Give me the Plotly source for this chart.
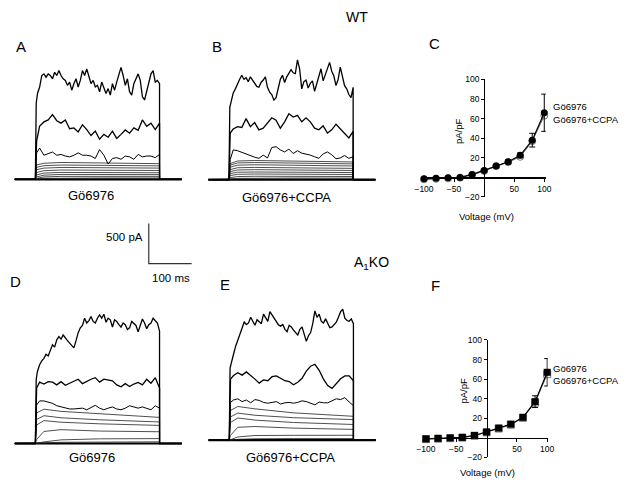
import plotly.graph_objects as go

W, H = 629, 486

# ---------------- DATA ----------------
# time grids (ms) of the sampled current traces
T_TOP = [2] + list(range(5, 295, 5))
T_MID = [3] + list(range(10, 300, 10))
T_LOW = [3, 20, 60, 150, 290]
PULSE_END = 290
BASE_T = [-48, 342]

# Panel A (WT, Go6976) currents, pA
A_top = [947, 1069, 1150, 1293, 1313, 1272, 1313, 1293, 1252, 1333, 1293, 1354, 1293, 1252, 1232,
         1171, 1211, 1110, 1191, 1252, 1150, 1232, 1354, 1293, 1374, 1293, 1191, 1232, 1150, 1171,
         1089, 1211, 1150, 1069, 1130, 1049, 1191, 1110, 1211, 1293, 1394, 1293, 1171, 1252, 1089,
         1049, 1191, 1252, 1313, 1232, 1028, 988, 1089, 1211, 1313, 1354, 1211, 1232, 1191]
A_mid = [480, 663, 715, 740, 805, 730, 700, 740, 630, 640, 590, 680, 620, 545, 600,
         500, 560, 525, 600, 510, 560, 615, 575, 640, 610, 740, 660, 700, 620, 700]
A_3rd = [330, 390, 300, 320, 340, 300, 310, 290, 280, 300, 330, 300, 300, 290, 260,
         370, 300, 190, 260, 270, 250, 290, 280, 250, 310, 280, 290, 290, 270, 310]
A_low = [[180, 200, 210, 205, 195], [150, 170, 178, 175, 168], [120, 140, 148, 146, 140],
         [85, 108, 116, 114, 110], [55, 78, 86, 85, 82], [30, 52, 61, 61, 59],
         [12, 30, 37, 38, 37], [3, 12, 16, 17, 17]]

# Panel B (WT, Go6976+CCPA)
B_top = [900, 980, 1080, 1130, 1200, 1250, 1300, 1250, 1270, 1220, 1280, 1240, 1200, 1160, 1150,
         1210, 1240, 1280, 1150, 1090, 1060, 990, 1020, 1120, 1250, 1300, 1210, 1280, 1330, 1370,
         1330, 1320, 1490, 1380, 1130, 1220, 1240, 1140, 1200, 1230, 1100, 1200, 1310, 1380, 1230,
         1300, 1390, 1460, 1350, 1290, 1170, 1250, 1400, 1260, 1170, 1130, 1060, 1020, 1150]
B_mid = [580, 630, 660, 650, 760, 660, 710, 620, 640, 700, 770, 740, 640, 720, 820,
         780, 800, 720, 770, 720, 640, 620, 670, 580, 620, 690, 630, 580, 520, 600]
B_3rd = [250, 370, 360, 340, 320, 290, 280, 265, 305, 270, 400, 410, 370, 345, 380,
         325, 360, 330, 320, 305, 285, 265, 320, 345, 310, 260, 270, 300, 265, 285]
B_low = [[200, 232, 238, 230, 220], [180, 208, 213, 205, 196], [155, 180, 185, 180, 170],
         [125, 148, 152, 148, 140], [100, 120, 124, 120, 114], [75, 92, 95, 92, 88],
         [50, 66, 70, 68, 64], [25, 38, 42, 41, 39], [8, 16, 20, 20, 19]]

# Panel D (A1KO, Go6976)
D_top = [800, 900, 980, 1030, 1060, 1110, 1090, 1160, 1230, 1200, 1290, 1330, 1300, 1350, 1310,
         1280, 1250, 1220, 1190, 1280, 1380, 1440, 1470, 1560, 1500, 1530, 1580, 1520, 1500, 1560,
         1600, 1560, 1610, 1510, 1560, 1540, 1450, 1540, 1520, 1480, 1450, 1500, 1480, 1420, 1440,
         1520, 1490, 1470, 1390, 1460, 1550, 1500, 1430, 1480, 1500, 1560, 1530, 1500, 1400]
D_mid = [690, 764, 740, 770, 764, 730, 770, 724, 750, 780, 800, 745, 775, 800, 820,
         764, 800, 790, 780, 730, 705, 745, 710, 740, 760, 730, 800, 750, 820, 690]
D_3rd = [480, 530, 530, 515, 500, 470, 455, 440, 430, 430, 435, 440, 420, 450, 475,
         440, 420, 440, 455, 430, 420, 440, 470, 455, 440, 455, 435, 420, 470, 440]
D_low = [[380, 427, 400, 370, 325], [300, 346, 320, 295, 268], [230, 285, 265, 245, 225],
         [50, 150, 172, 155, 146], [3, 20, 45, 58, 61], [1, 8, 15, 19, 21]]

# Panel E (A1KO, Go6976+CCPA)
E_top = [900, 980, 1070, 1170, 1240, 1320, 1400, 1470, 1440, 1460, 1530, 1480, 1430, 1500, 1470,
         1450, 1570, 1520, 1480, 1600, 1560, 1510, 1470, 1435, 1420, 1440, 1380, 1350, 1430, 1410,
         1370, 1340, 1310, 1380, 1410, 1320, 1230, 1300, 1340, 1450, 1610, 1530, 1570, 1480, 1460,
         1510, 1460, 1400, 1410, 1440, 1470, 1530, 1600, 1630, 1520, 1490, 1480, 1510, 1450]
E_mid = [760, 805, 840, 810, 850, 810, 760, 710, 750, 740, 790, 800, 770, 740, 730,
         690, 720, 770, 860, 920, 945, 870, 760, 680, 645, 700, 764, 800, 800, 740]
E_3rd = [470, 500, 515, 480, 500, 465, 505, 495, 470, 460, 470, 480, 450, 465, 470,
         460, 470, 490, 480, 455, 440, 475, 465, 465, 490, 515, 505, 530, 475, 430]
E_low = [[370, 419, 390, 340, 297], [290, 337, 310, 280, 256], [220, 276, 250, 220, 195],
         [60, 160, 170, 150, 134], [5, 40, 58, 60, 61], [1, 10, 17, 20, 20]]

# Scale bar
SCALE_MS = 100
SCALE_PA = 500

# I-V data (pA/pF)
V = [-100, -80, -60, -40, -20, 0, 20, 40, 60, 80, 100]
C_go = [-1.5, -1, -0.5, 0, 3, 7, 11.5, 16, 22.5, 38, 66]
C_go_err = [0.5, 0.5, 0.5, 0.5, 1, 1.5, 1.5, 2, 2.5, 7, 19]
C_ccpa = [-2, -1.5, -1, -0.3, 2.5, 6.5, 11.5, 15.5, 21, 37, 63]
F_go = [-1, -0.5, 0, 0.5, 2.5, 6, 10, 14, 21, 37, 67]
F_go_err = [0.5, 0.5, 0.5, 0.5, 1, 1.5, 1.5, 2, 2.5, 6, 14]
F_ccpa = [-1.2, -0.8, -0.3, 0.3, 2.2, 5.7, 9.6, 13.5, 20.5, 36, 65]

# ---------------- LAYOUT HELPERS ----------------
SX = 0.438          # px per ms
SY = 41 / 500       # px per pA
FONT = "Liberation Sans, Arial, sans-serif"

fig = go.Figure()
layout = dict(width=W, height=H, margin=dict(l=0, r=0, t=0, b=0, pad=0), autosize=False,
              paper_bgcolor="white", plot_bgcolor="rgba(0,0,0,0)", showlegend=False,
              hovermode=False,
              font=dict(family=FONT, color="black"))


def hidden_axes(n, ox, oy, bx0, bx1, by0, by1):
    layout[f"xaxis{n}"] = dict(domain=[bx0 / W, bx1 / W],
                               range=[(bx0 - ox) / SX, (bx1 - ox) / SX],
                               visible=False, anchor=f"y{n}")
    layout[f"yaxis{n}"] = dict(domain=[1 - by1 / H, 1 - by0 / H],
                               range=[(oy - by1) / SY, (oy - by0) / SY],
                               visible=False, anchor=f"x{n}")


def add_panel(n, ox, oy, top, mid, third, lows):
    hidden_axes(n, ox, oy, ox - 24, ox + 156, oy - 150, oy + 8)
    xa, ya = f"x{n}", f"y{n}"
    fig.add_trace(go.Scatter(x=BASE_T, y=[0, 0], mode="lines", xaxis=xa, yaxis=ya,
                             line=dict(color="black", width=2.2), hoverinfo="skip"))
    for vals in lows:
        fig.add_trace(go.Scatter(x=[BASE_T[0], 0] + T_LOW + [PULSE_END, BASE_T[1]],
                                 y=[0, 0] + vals + [0, 0], mode="lines", xaxis=xa, yaxis=ya,
                                 line=dict(color="#222", width=0.8), hoverinfo="skip"))
    for vals, tt, w in [(third, T_MID, 1.0), (mid, T_MID, 1.3), (top, T_TOP, 1.3)]:
        fig.add_trace(go.Scatter(x=[BASE_T[0], 0] + tt + [PULSE_END, BASE_T[1]],
                                 y=[0, 0] + vals + [0, 0], mode="lines", xaxis=xa, yaxis=ya,
                                 line=dict(color="black", width=w), hoverinfo="skip"))


add_panel(1, 29, 178, A_top, A_mid, A_3rd, A_low)
add_panel(2, 227, 178.3, B_top, B_mid, B_3rd, B_low)
add_panel(3, 29, 447.7, D_top, D_mid, D_3rd, D_low)
add_panel(4, 227.3, 444.3, E_top, E_mid, E_3rd, E_low)

# scale bar
hidden_axes(5, 145, 264, 138, 200, 215, 272)
fig.add_trace(go.Scatter(x=[0, 0, SCALE_MS], y=[SCALE_PA, 0, 0], mode="lines",
                         xaxis="x5", yaxis="y5", line=dict(color="#333", width=1.2),
                         hoverinfo="skip"))


def iv_axes(n, x0px, ypx_axis, xdom, ydom, px_per_mv):
    layout[f"xaxis{n}"] = dict(domain=[xdom[0] / W, xdom[1] / W],
                               range=[(xdom[0] - x0px) / px_per_mv, (xdom[1] - x0px) / px_per_mv],
                               anchor="free", position=1 - ypx_axis / H,
                               showline=True, linecolor="black", linewidth=1.2,
                               ticks="outside", ticklen=3, tickwidth=1, tickcolor="black",
                               tickvals=[-100, -50, 50, 100],
                               tickfont=dict(size=8.5, family=FONT, color="black"),
                               showgrid=False, zeroline=False)
    layout[f"yaxis{n}"] = dict(domain=[1 - ydom[1] / H, 1 - ydom[0] / H],
                               range=[-20, 100], anchor="free", position=x0px / W,
                               showline=True, linecolor="black", linewidth=1.2,
                               ticks="outside", ticklen=3, tickwidth=1, tickcolor="black",
                               tickvals=[-20, 20, 40, 60, 80, 100],
                               tickfont=dict(size=8.5, family=FONT, color="black"),
                               showgrid=False, zeroline=False)


def iv_traces(n, go_vals, go_err, ccpa_vals, symbol):
    xa, ya = f"x{n}", f"y{n}"
    fig.add_trace(go.Scatter(x=V, y=ccpa_vals, mode="lines+markers", xaxis=xa, yaxis=ya,
                             cliponaxis=False,
                             line=dict(color="#666", width=1),
                             marker=dict(symbol=symbol + "-open", size=7, color="#777",
                                         line=dict(width=1, color="#777"))))
    fig.add_trace(go.Scatter(x=V, y=go_vals, mode="lines+markers", xaxis=xa, yaxis=ya,
                             cliponaxis=False,
                             error_y=dict(type="data", array=go_err, color="black",
                                          thickness=1, width=3),
                             line=dict(color="black", width=1.2),
                             marker=dict(symbol=symbol, size=7, color="black")))


iv_axes(6, 488, 176, (424, 551), (76, 196), 0.615)
iv_traces(6, C_go, C_go_err, C_ccpa, "circle")
iv_axes(7, 490.5, 442, (425, 553), (342, 462), 0.62)
iv_traces(7, F_go, F_go_err, F_ccpa, "square")

# ---------------- TEXT ----------------
ann = []


def txt(s, x, y, size, xanchor="center", angle=0):
    ann.append(dict(text=s, x=x / W, y=1 - y / H, xref="paper", yref="paper",
                    xanchor=xanchor, yanchor="middle", showarrow=False, textangle=angle,
                    font=dict(size=size, family=FONT, color="black")))


for s, x, y in [("A", 14, 42), ("B", 215, 42), ("C", 437, 39),
                ("D", 9, 282), ("E", 223, 285), ("F", 438, 286)]:
    txt(s, x, y, 15)
txt("WT", 358, 12, 14)
txt("A<sub>1</sub>KO", 373, 263, 14)
txt("Gö6976", 86, 194, 13)
txt("Gö6976+CCPA", 286, 197, 13)
txt("Gö6976", 87, 462, 13)
txt("Gö6976+CCPA", 290, 462, 13)
txt("500 pA", 120, 237, 11.5)
txt("100 ms", 168, 279, 11.5)
txt("Voltage (mV)", 490, 216, 9.5)
txt("Voltage (mV)", 491, 477, 9.5)
txt("pA/pF", 462, 129, 9.5, angle=-90)
txt("pA/pF", 467, 394, 9.5, angle=-90)
txt("Gö6976", 556, 104, 9.5, xanchor="left")
txt("Gö6976+CCPA", 556, 117, 9.5, xanchor="left")
txt("Gö6976", 556, 371, 9.5, xanchor="left")
txt("Gö6976+CCPA", 556, 383, 9.5, xanchor="left")

layout["annotations"] = ann
fig.update_layout(**layout)
fig.write_html("out.html", config={"displayModeBar": False, "staticPlot": True},
               post_script="document.body.style.margin='0';document.body.style.overflow='hidden';")
